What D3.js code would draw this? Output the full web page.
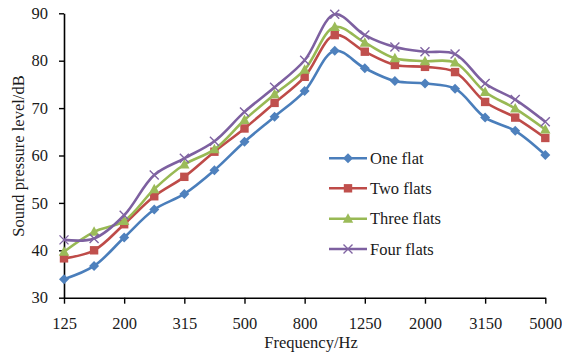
<!DOCTYPE html>
<html>
<head>
<meta charset="utf-8">
<script src="https://cdn.jsdelivr.net/npm/d3@7"></script>
<style>
  html, body { margin: 0; padding: 0; background: #fff; }
  svg { display: block; }
  text { font-family: "Liberation Serif", "Times New Roman", serif; fill: #1a1a1a; }
</style>
</head>
<body>
<svg id="chart" width="562" height="357"></svg>
<script>
// One-third octave band centre frequencies (Hz)
const categories = ["125","160","200","250","315","400","500","630","800","1000","1250","1600","2000","2500","3150","4000","5000"];
const tickLabels = ["125","200","315","500","800","1250","2000","3150","5000"];
const yTicks = [30, 40, 50, 60, 70, 80, 90];

// Sound pressure level (dB) per band
const oneFlat    = [33.9, 36.7, 42.7, 48.6, 51.9, 56.9, 62.9, 68.2, 73.6, 82.1, 78.4, 75.7, 75.2, 74.1, 68.0, 65.2, 60.1];
const twoFlats   = [38.3, 40.0, 45.5, 51.4, 55.5, 60.8, 65.7, 71.1, 76.6, 85.4, 81.9, 79.1, 78.7, 77.6, 71.3, 68.0, 63.7];
const threeFlats = [39.7, 43.9, 46.2, 52.9, 58.1, 61.3, 67.5, 72.9, 78.1, 87.1, 83.8, 80.5, 79.9, 79.6, 73.4, 69.9, 65.5];
const fourFlats  = [42.2, 42.5, 47.4, 55.9, 59.4, 63.0, 69.2, 74.4, 80.1, 89.8, 85.4, 82.9, 81.9, 81.4, 75.2, 71.8, 67.1];

const seriesNames = ["One flat", "Two flats", "Three flats", "Four flats"];
const seriesValues = [oneFlat, twoFlats, threeFlats, fourFlats];
const lineColors = ["#4a7ebb", "#be4b48", "#98b954", "#7d60a0"];
const markerColors = ["#4f81bd", "#c0504d", "#9bbb59", "#8064a2"];
const markerTypes = ["diamond", "square", "triangle", "cross"];

const svg = d3.select("#chart");
const x = d3.scalePoint().domain(categories).range([64, 545.3]);
const y = d3.scaleLinear().domain([30, 90]).range([297.7, 13.3]);

// Axes
const yAxis = svg.append("g")
  .attr("transform", "translate(64,0)")
  .call(d3.axisLeft(y).tickValues(yTicks).tickSize(5).tickSizeOuter(0).tickPadding(11));
const xAxis = svg.append("g")
  .attr("transform", "translate(0,297.7)")
  .call(d3.axisBottom(x).tickValues(tickLabels).tickSize(6).tickSizeOuter(0).tickPadding(14));
[yAxis, xAxis].forEach(g => {
  g.select(".domain").attr("stroke", "#000").attr("stroke-width", 1.6);
  g.selectAll(".tick line").attr("stroke", "#000").attr("stroke-width", 1.4);
  g.selectAll(".tick text")
    .attr("fill", "#1a1a1a")
    .style("font-family", "'Liberation Serif', 'Times New Roman', serif")
    .style("font-size", "16.5px");
});

// Axis titles
svg.append("text")
  .attr("x", 311).attr("y", 348)
  .attr("text-anchor", "middle")
  .style("font-size", "16.5px")
  .text("Frequency/Hz");
svg.append("text")
  .attr("transform", "translate(24,156) rotate(-90)")
  .attr("text-anchor", "middle")
  .style("font-size", "16.5px")
  .text("Sound pressure level/dB");

// Marker shapes
function drawMarker(g, type, color) {
  if (type === "diamond") {
    g.append("path").attr("d", "M0,-5L5,0L0,5L-5,0Z").attr("fill", color);
  } else if (type === "square") {
    g.append("rect").attr("x", -4.2).attr("y", -4.2).attr("width", 8.4).attr("height", 8.4).attr("fill", color);
  } else if (type === "triangle") {
    g.append("path").attr("d", "M0,-5.5L5.2,4L-5.2,4Z").attr("fill", color);
  } else {
    g.append("path").attr("d", "M-4.5,-4.5L4.5,4.5M-4.5,4.5L4.5,-4.5")
      .attr("stroke", color).attr("stroke-width", 1.4).attr("fill", "none");
  }
}

const line = d3.line()
  .x((d, i) => x(categories[i]))
  .y(d => y(d))
  .curve(d3.curveCatmullRom.alpha(0.5));

// Series lines and markers
seriesValues.forEach((vals, s) => {
  const g = svg.append("g");
  g.append("path")
    .datum(vals)
    .attr("d", line)
    .attr("fill", "none")
    .attr("stroke", lineColors[s])
    .attr("stroke-width", 2.6)
    .attr("stroke-linejoin", "round");
  vals.forEach((v, i) => {
    const m = g.append("g").attr("transform", `translate(${x(categories[i])},${y(v)})`);
    drawMarker(m, markerTypes[s], markerColors[s]);
  });
});

// Legend
const legendY = [158.3, 188.3, 218.8, 249];
seriesNames.forEach((name, s) => {
  const g = svg.append("g").attr("transform", `translate(0,${legendY[s]})`);
  g.append("line")
    .attr("x1", 329).attr("x2", 367).attr("y1", 0).attr("y2", 0)
    .attr("stroke", lineColors[s]).attr("stroke-width", 2.6);
  const m = g.append("g").attr("transform", "translate(348,0)");
  drawMarker(m, markerTypes[s], markerColors[s]);
  g.append("text")
    .attr("x", 370).attr("y", 5.5)
    .style("font-size", "16.5px")
    .text(name);
});
</script>
</body>
</html>
